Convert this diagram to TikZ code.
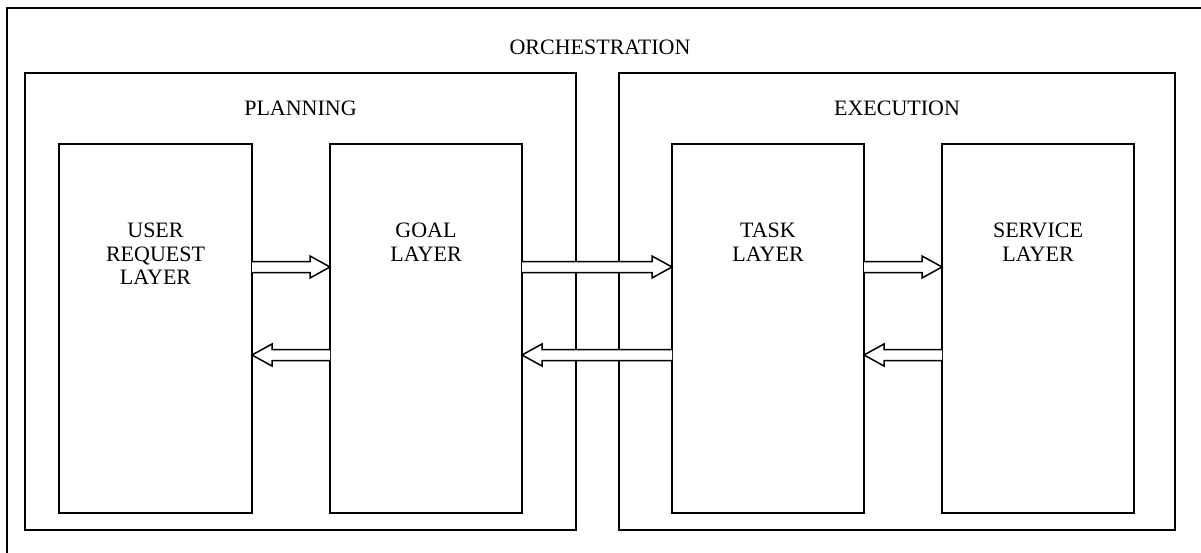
\documentclass[tikz,border=0pt]{standalone}
\usepackage{fontspec}
\setmainfont{Liberation Serif}
\usetikzlibrary{calc}
\tikzset{
  box/.style={draw, line width=2pt, inner sep=0pt, outer sep=0pt},
  lbl/.style={font=\fontsize{22}{23.5}\selectfont, align=center, inner sep=0pt},
  hollow/.style={draw, line width=1.5pt, fill=white, line join=miter},
}
\newcommand\harrow[3]{%
  \draw[hollow] let \p1=(#1), \p2=(#2), \p3=(0,#3), \n1={sign(\x2-\x1)} in
    (\x1,{\y3+5.5pt}) -- ({\x2-\n1*20pt},{\y3+5.5pt}) -- ({\x2-\n1*20pt},{\y3+11pt})
    -- (\x2,\y3) -- ({\x2-\n1*20pt},{\y3-11pt}) -- ({\x2-\n1*20pt},{\y3-5.5pt})
    -- (\x1,{\y3-5.5pt});}
\begin{document}
\begin{tikzpicture}[x=1pt,y=-1pt]
  \useasboundingbox (0,0) rectangle (1201,553);
  \clip (0,0) rectangle (1201,553);
  \fill[white] (0,0) rectangle (1201,553);
  % outer frame (extends beyond the page)
  \draw[line width=2pt] (7,8) rectangle (1230,580);
  \node[lbl] (orchlbl) at (600,47) {ORCHESTRATION};
  % groups
  \node[box, minimum width=551pt, minimum height=457pt] (planning) at (300.5,301.5) {};
  \node[box, minimum width=556pt, minimum height=457pt] (execution) at (897,301.5) {};
  \node[lbl] (planlbl) at (300.5,108) {PLANNING};
  \node[lbl] (execlbl) at (897,108) {EXECUTION};
  % layers
  \node[box, minimum width=193pt, minimum height=369pt] (user) at (155.5,328.5) {};
  \node[box, minimum width=192pt, minimum height=369pt] (goal) at (426,328.5) {};
  \node[box, minimum width=192pt, minimum height=369pt] (task) at (768,328.5) {};
  \node[box, minimum width=192pt, minimum height=369pt] (service) at (1038,328.5) {};
  \node[lbl] (userlbl) at ($(user.north)+(0,110)$) {USER\\REQUEST\\LAYER};
  \node[lbl] (goallbl) at ($(goal.north)+(0,98)$) {GOAL\\LAYER};
  \node[lbl] (tasklbl) at ($(task.north)+(0,98)$) {TASK\\LAYER};
  \node[lbl] (servicelbl) at ($(service.north)+(0,98)$) {SERVICE\\LAYER};
  % arrows
  \harrow{user.east}{goal.west}{267}
  \harrow{goal.west}{user.east}{355}
  \harrow{goal.east}{task.west}{267}
  \harrow{task.west}{goal.east}{355}
  \harrow{task.east}{service.west}{267}
  \harrow{service.west}{task.east}{355}
\end{tikzpicture}
\end{document}
